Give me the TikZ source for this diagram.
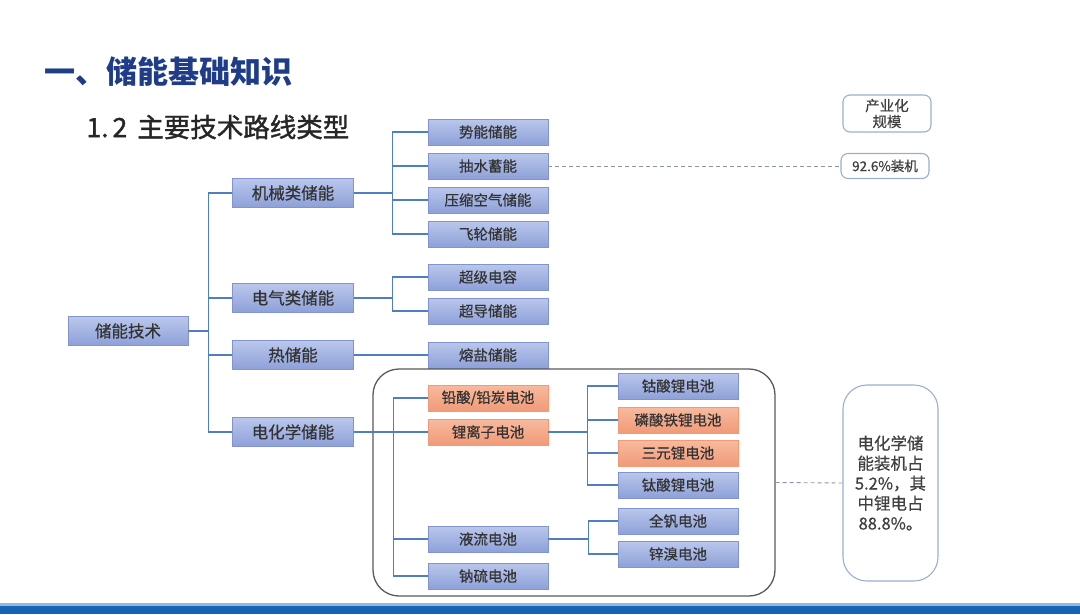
\documentclass[tikz,border=0pt]{standalone}
\usepackage{fontspec}
\setmainfont{Noto Sans CJK SC}
\newfontfamily\boxfont[FakeBold=0.6]{Noto Sans CJK SC}
\newfontfamily\subfont[FakeBold=1.4]{Noto Sans CJK SC}
\usepackage{tikz}
\usetikzlibrary{positioning}

\definecolor{titleblue}{HTML}{1F3C88}
\definecolor{linkblue}{HTML}{4F7FC0}
\definecolor{boxtop}{HTML}{BAC7EC}
\definecolor{boxbot}{HTML}{8DA0D8}
\definecolor{boxline}{HTML}{8294CF}
\definecolor{ortop}{HTML}{F8BA9E}
\definecolor{orbot}{HTML}{F09A78}
\definecolor{notegray}{HTML}{9AAFD0}
\definecolor{dashgray}{HTML}{8A96A8}
\definecolor{barblue}{HTML}{1763B5}
\definecolor{barlight}{HTML}{8DB9E6}

\tikzset{
  bluebox/.style={draw=boxline, line width=0.6pt, top color=boxtop, bottom color=boxbot,
    minimum width=120pt, minimum height=26pt, inner sep=0pt, text=black!80,
    font=\boxfont\fontsize{14.5}{16}\selectfont},
  bigbox/.style={bluebox, minimum width=121pt, minimum height=29pt, font=\boxfont\fontsize{16.5}{18}\selectfont},
  orbox/.style={bluebox, draw=orbot, top color=ortop, bottom color=orbot},
  link/.style={draw=linkblue, line width=1.3pt},
  dashlink/.style={draw=dashgray, line width=0.9pt, dash pattern=on 4pt off 3pt},
  note/.style={draw=notegray, line width=1.1pt, rounded corners=7pt, inner sep=0pt,
    text=black!75, align=center, font=\boxfont\fontsize{14.5}{17}\selectfont},
}

\begin{document}
\begin{tikzpicture}[x=1pt,y=-1pt]
\useasboundingbox (0,0) rectangle (1080,614);

% titles
\node[anchor=west, text=titleblue, font=\bfseries\fontsize{31}{33}\selectfont] (title) at (41,72) {一、储能基础知识};
\node[anchor=west, text=black!85, font=\subfont\fontsize{26.5}{28}\selectfont] (subtitle) at (83,127) {1.\hspace{4pt}2\hspace{10pt}主要技术路线类型};

% tree
\node[bigbox, minimum width=120pt] (root) at (128,331) {储能技术};
\node[bigbox] (mech) at (293,193) {机械类储能};
\node[bigbox] (elec) at (293,298) {电气类储能};
\node[bigbox] (heat) at (293,355) {热储能};
\node[bigbox] (chem) at (293,432) {电化学储能};

\node[bluebox] (pot)   at (488,132) {势能储能};
\node[bluebox] (pump)  at (488,166) {抽水蓄能};
\node[bluebox] (air)   at (488,200) {压缩空气储能};
\node[bluebox] (fly)   at (488,234) {飞轮储能};
\node[bluebox] (scap)  at (488,277) {超级电容};
\node[bluebox] (scon)  at (488,311) {超导储能};
\node[bluebox] (salt)  at (488,355) {熔盐储能};

% electrochemical group
\node[draw=black!65, line width=1.3pt, rounded corners=26pt, minimum width=402pt, minimum height=227pt] (frame) at (574,482.5) {};
\node[orbox]   (lead)  at (488,398) {铅酸/铅炭电池};
\node[orbox]   (liion) at (488,432) {锂离子电池};
\node[bluebox] (flow)  at (488,539) {液流电池};
\node[bluebox] (nas)   at (488,576) {钠硫电池};
\node[bluebox] (lco)   at (678,386) {钴酸锂电池};
\node[orbox]   (lfp)   at (678,420) {磷酸铁锂电池};
\node[orbox]   (ncm)   at (678,453) {三元锂电池};
\node[bluebox] (lto)   at (678,485) {钛酸锂电池};
\node[bluebox] (vrb)   at (678,521) {全钒电池};
\node[bluebox] (znbr)  at (678,554) {锌溴电池};

\foreach \n in {mech,elec,heat,chem}
  \draw[link] (root.east) -- ++(20,0) |- (\n.west);
\foreach \n in {pot,pump,air,fly}
  \draw[link] (mech.east) -- ++(39,0) |- (\n.west);
\foreach \n in {scap,scon}
  \draw[link] (elec.east) -- ++(39,0) |- (\n.west);
\draw[link] (heat.east) -- (salt.west);
\foreach \n in {lead,liion,flow,nas}
  \draw[link] (chem.east) -- ++(40,0) |- (\n.west);
\foreach \n in {lco,lfp,ncm,lto}
  \draw[link] (liion.east) -- ++(39,0) |- (\n.west);
\foreach \n in {vrb,znbr}
  \draw[link] (flow.east) -- ++(40,0) |- (\n.west);

% right side notes
\node[note, minimum width=88pt, minimum height=37pt] (scale) at (887,113.5) {产业化\\[-1pt]规模};
\node[note, minimum width=88pt, minimum height=25pt, font=\boxfont\fontsize{13.5}{15}\selectfont] (share1) at (885,166) {92.6\%装机};
\node[note, rounded corners=24pt, minimum width=95pt, minimum height=196pt,
  font=\boxfont\fontsize{16.5}{20}\selectfont] (share2) at (890.5,483)
  {电化学储\\能装机占\\5.2\%，其\\中锂电占\\88.8\%。};
\draw[dashlink] (pump.east) -- (share1.west);
\draw[dashlink] (frame.east) -- (share2.west);

% bottom bar
\fill[barlight] (0,603) rectangle (1080,606);
\fill[barblue] (0,606) rectangle (1080,614);
\end{tikzpicture}
\end{document}
